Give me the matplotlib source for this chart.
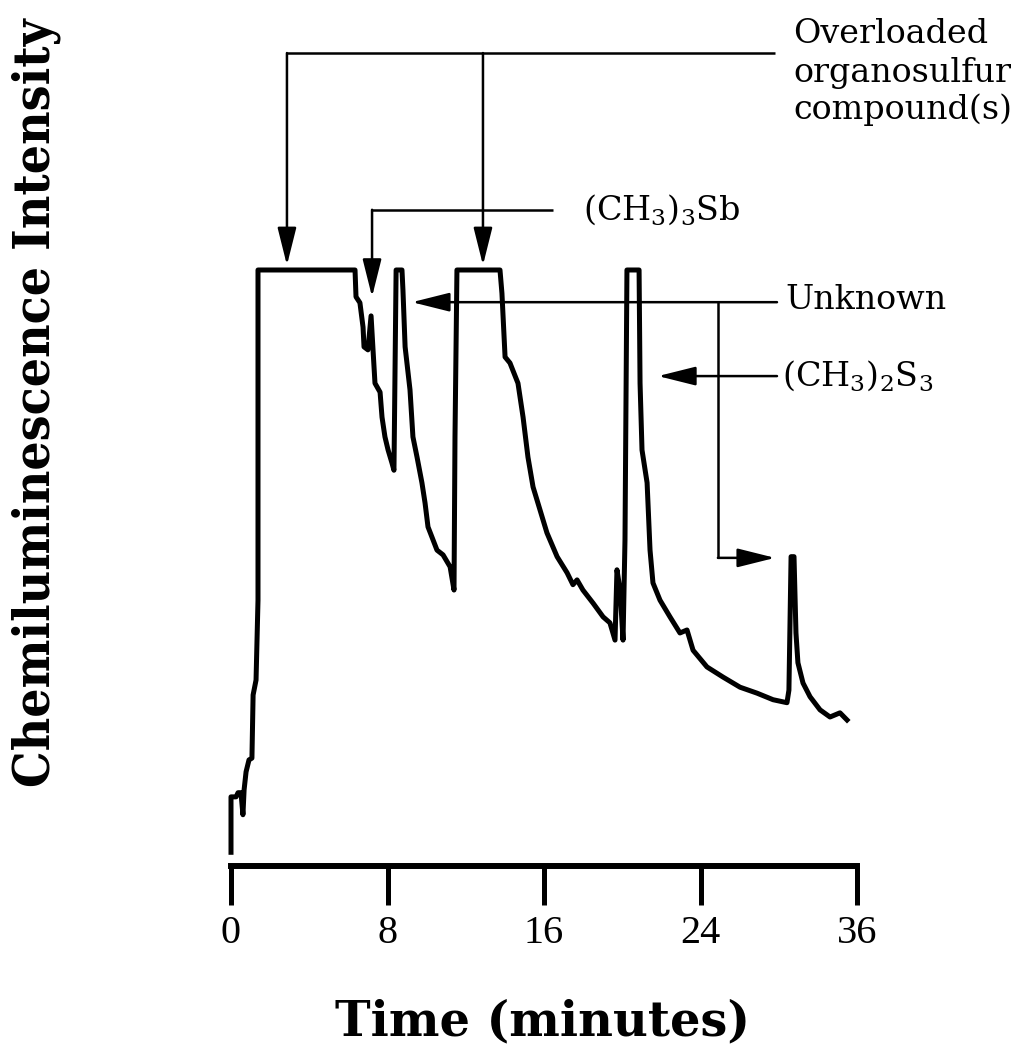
import matplotlib.pyplot as plt

# chromatogram trace (time in minutes, intensity in relative units, 100 = detector overload)
time_min = [0.00, 0.00, 0.26, 0.36, 0.51, 0.61, 0.67, 0.77, 0.92, 1.07, 1.13, 1.28, 1.38, 1.38,
            6.34, 6.39, 6.59, 6.75, 6.80, 7.00, 7.16, 7.26, 7.36, 7.62, 7.72, 7.87, 8.03, 8.23,
            8.33, 8.44, 8.74, 8.79, 8.90, 9.15, 9.30, 9.51, 9.76, 9.92, 10.07, 10.33, 10.53,
            10.84, 11.20, 11.40, 11.45, 11.55, 13.75, 13.85, 14.01, 14.26, 14.67, 14.93, 15.18,
            15.44, 15.80, 16.15, 16.67, 17.18, 17.48, 17.69, 17.99, 18.51, 19.02, 19.37, 19.63,
            19.73, 19.89, 20.04, 20.14, 20.24, 20.86, 20.91, 21.01, 21.27, 21.42, 21.57, 21.93,
            22.44, 22.95, 23.31, 23.62, 24.33, 25.15, 26.02, 26.89, 27.71, 28.42, 28.52, 28.63,
            28.78, 28.88, 28.98, 29.24, 29.60, 30.11, 30.62, 31.13, 31.49]
intensity = [2.3, 11.6, 11.6, 12.3, 12.3, 8.6, 12.8, 15.8, 17.8, 18.1, 28.7, 31.2, 44.6, 100.0,
             100.0, 95.5, 94.5, 90.4, 87.1, 86.6, 92.3, 86.6, 81.0, 79.5, 75.3, 72.0, 69.8, 67.6,
             66.4, 100.0, 100.0, 96.6, 87.1, 79.9, 72.0, 68.6, 64.3, 60.9, 56.9, 54.7, 53.0,
             52.2, 50.2, 46.3, 72.0, 100.0, 100.0, 96.1, 85.4, 84.4, 81.0, 75.3, 68.6,
             63.6, 59.7, 55.9, 51.9, 49.2, 47.2, 48.0, 46.3, 44.1, 41.8, 40.8, 37.9,
             49.7, 46.3, 37.9, 54.7, 100.0, 100.0, 81.0, 69.8, 64.3, 53.0, 47.5, 44.6,
             41.8, 39.1, 39.6, 36.2, 33.4, 31.7, 30.0, 29.0, 27.9, 27.4, 29.5, 51.9,
             51.9, 39.1, 34.1, 30.7, 28.4, 26.2, 25.0, 25.7, 24.5]

tick_pos = [0, 8, 16, 24, 32]
tick_labels = ["0", "8", "16", "24", "36"]

plt.rcParams['mathtext.fontset'] = 'dejavuserif'

fig = plt.figure(figsize=(10.27, 10.46), dpi=100)
ax = fig.add_axes([231 / 1027, 180 / 1046, 626 / 1027, 866 / 1046])
ax.plot(time_min, intensity, color='black', lw=3.6, clip_on=False)
ax.set_xlim(0, 32)
ax.set_ylim(0, 145.3)

for side in ['top', 'right', 'left']:
    ax.spines[side].set_visible(False)
ax.spines['bottom'].set_linewidth(4.3)
ax.spines['bottom'].set_capstyle('projecting')
ax.set_yticks([])
ax.set_xticks(tick_pos, tick_labels)
ax.tick_params(axis='x', direction='out', length=28, width=3.6, pad=7, labelsize=29)
for lbl in ax.get_xticklabels():
    lbl.set_fontfamily('Liberation Serif')


def arrow(x0, y0, x1, y1):
    ax.annotate('', xy=(x1, y1), xytext=(x0, y0), annotation_clip=False,
                arrowprops=dict(arrowstyle='-|>,head_length=0.8,head_width=0.2',
                                mutation_scale=29, lw=1.8, color='black',
                                shrinkA=0, shrinkB=0))


def leader(xs, ys):
    ax.plot(xs, ys, color='black', lw=1.8, clip_on=False, solid_capstyle='butt')


txt = dict(fontsize=24, family='DejaVu Serif', color='black', clip_on=False)

# overloaded peaks
leader([2.86, 27.81], [136.4, 136.4])
arrow(2.86, 136.4, 2.86, 100.8)
arrow(12.88, 136.4, 12.88, 100.8)
ax.text(28.73, 138.1, "Overloaded", va='baseline', **txt)
ax.text(28.73, 131.5, "organosulfur", va='baseline', **txt)
ax.text(28.73, 125.3, "compound(s)", va='baseline', **txt)

# (CH3)3Sb
leader([16.46, 7.21], [110.1, 110.1])
arrow(7.21, 110.1, 7.21, 95.5)
ax.text(18.0, 110.1, "(CH$_3$)$_3$Sb", va='center', **txt)

# unknown
arrow(27.91, 94.6, 9.25, 94.6)
leader([24.89, 24.89], [94.6, 51.7])
arrow(24.89, 51.7, 27.81, 51.7)
ax.text(28.32, 95.0, "Unknown", va='center', **txt)

# (CH3)2S3
arrow(27.91, 82.2, 21.83, 82.2)
ax.text(28.17, 82.2, "(CH$_3$)$_2$S$_3$", va='center', **txt)

fig.text(542.5 / 1027, 1 - 1035 / 1046, "Time (minutes)", ha='center', va='baseline',
         fontsize=34.5, fontweight='bold', family='DejaVu Serif')
fig.text(36 / 1027, 1 - 403 / 1046, "Chemiluminescence Intensity", rotation=90,
         ha='center', va='center', fontsize=37, fontweight='bold',
         family='DejaVu Serif', fontstretch='condensed')

fig.savefig('out.png', dpi=100)
